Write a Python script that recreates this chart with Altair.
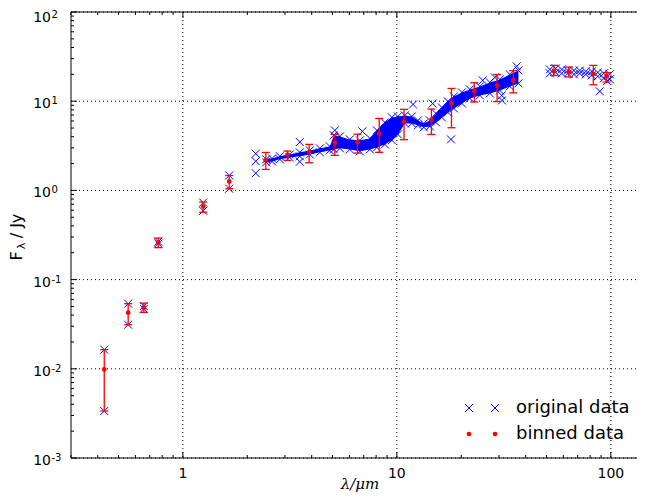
import altair as alt
import pandas as pd

W, H = 566, 446
BLUE = "#0000ff"
RED = "#ff0000"
CROSS = "M-1,-1L1,1M-1,1L1,-1"

# photometric points (original data)
phot_wl = [0.429, 0.429, 0.555, 0.555, 0.657, 0.657, 0.767, 0.767,
           1.244, 1.244, 1.646, 1.646, 2.19, 2.19, 2.19]
phot_flux = [0.0164, 0.00336, 0.0537, 0.0312, 0.0505, 0.0470, 0.266, 0.254,
             0.73, 0.59, 1.47, 1.045, 2.58, 2.12, 1.56]

# mid-IR spectrum: upper and lower envelope of the dense band
spec_wl = [2.45, 2.61, 2.84, 3.16, 3.52, 3.92, 4.37, 4.86, 5.08, 5.42, 6.03,
           6.72, 7.48, 8.07, 8.79, 9.48, 10.11, 10.90, 11.75, 12.54, 13.37,
           14.27, 15.22, 16.23, 17.31, 18.47, 20.13, 21.94, 24.43, 27.20,
           30.29, 33.73, 37.0]
spec_hi = [2.23, 2.28, 2.41, 2.53, 2.67, 2.81, 2.96, 3.11, 4.14, 4.03, 3.73,
           3.64, 3.83, 4.71, 5.79, 6.58, 6.75, 6.93, 6.75, 6.09, 5.64, 6.09,
           7.30, 8.52, 9.95, 11.32, 12.55, 13.56, 14.66, 16.25, 17.56, 19.97,
           22.14]
spec_lo = [2.06, 2.11, 2.23, 2.34, 2.41, 2.53, 2.67, 2.81, 2.88, 2.96, 2.88,
           2.74, 2.88, 3.03, 3.28, 3.64, 4.24, 5.64, 5.64, 5.36, 5.09, 5.22,
           5.79, 6.58, 7.49, 8.30, 9.45, 10.75, 11.61, 12.23, 13.22, 14.66,
           15.84]

# far-IR spectrum
fir_wl = [51.9, 55.3, 59.0, 63.0, 67.2, 71.6, 76.4, 81.5, 86.9, 92.7, 98.9]
fir_hi = [22.7, 23.3, 22.7, 22.1, 22.1, 22.1, 21.6, 21.6, 21.0, 20.5, 20.0]
fir_lo = [20.5, 21.0, 20.5, 20.5, 20.0, 20.5, 20.0, 19.5, 19.0, 18.0, 17.6]

# scattered individual points
out_wl = [3.52, 3.52, 5.13, 6.9, 11.9, 14.7, 17.9, 25.2, 28.7, 30.9, 31.0,
          36.3, 88.8, 96.0]
out_flux = [3.48, 2.10, 4.71, 4.59, 9.2, 9.4, 3.73, 17.1, 18.5, 11.6, 10.2,
            24.6, 12.9, 16.8]

# binned data
bin_wl = [0.429, 0.555, 0.657, 0.767, 1.244, 1.646, 2.44, 3.08, 3.89, 5.13,
          6.55, 8.27, 10.8, 14.5, 18.0, 23.0, 29.4, 35.0, 54.2, 63.6, 82.8, 95.5]
bin_flux = [0.00985, 0.0426, 0.0484, 0.259, 0.66, 1.26, 2.17, 2.51, 2.69, 3.39,
            3.45, 4.32, 5.83, 6.2, 9.5, 13.0, 15.0, 17.1, 21.7, 21.4, 20.3, 19.1]
bin_lo = [0.00336, 0.0312, 0.0429, 0.228, 0.57, 1.045, 1.72, 2.17, 2.04, 2.47,
          2.62, 2.67, 3.7, 4.24, 5.04, 9.8, 9.9, 12.4, 19.4, 18.7, 15.3, 16.4]
bin_hi = [0.0164, 0.0537, 0.0545, 0.292, 0.74, 1.47, 2.66, 2.76, 3.28, 4.24,
          4.27, 6.4, 8.1, 8.17, 13.9, 16.1, 19.9, 22.0, 25.2, 24.1, 25.2, 20.9]

# axis ticks and tick labels
x_major = [1, 10, 100]
x_labels = ["1", "10", "100"]
x_minor = [0.3, 0.4, 0.5, 0.6, 0.7, 0.8, 0.9, 2, 3, 4, 5, 6, 7, 8, 9,
           20, 30, 40, 50, 60, 70, 80, 90]
y_major = [0.001, 0.01, 0.1, 1, 10, 100]
y_base = ["10", "10", "10", "10", "10", "10"]
y_exp = ["-3", "-2", "-1", "0", "1", "2"]
y_minor = [0.002, 0.003, 0.004, 0.005, 0.006, 0.007, 0.008, 0.009,
           0.02, 0.03, 0.04, 0.05, 0.06, 0.07, 0.08, 0.09,
           0.2, 0.3, 0.4, 0.5, 0.6, 0.7, 0.8, 0.9,
           2, 3, 4, 5, 6, 7, 8, 9, 20, 30, 40, 50, 60, 70, 80, 90]

xs = alt.Scale(type="log", domain=[0.3, 132.5])
ys = alt.Scale(type="log", domain=[0.001, 100])


def X(field):
    return alt.X(field, type="quantitative", scale=xs, axis=None)


def Y(field):
    return alt.Y(field, type="quantitative", scale=ys, axis=None)


spec = pd.DataFrame({"wl": spec_wl, "hi": spec_hi, "lo": spec_lo})
orig = pd.DataFrame({
    "wl": phot_wl + spec_wl + spec_wl + fir_wl + fir_wl + out_wl,
    "flux": phot_flux + spec_hi + spec_lo + fir_hi + fir_lo + out_flux,
})
binned = pd.DataFrame({"wl": bin_wl, "flux": bin_flux, "lo": bin_lo, "hi": bin_hi})
xmaj = pd.DataFrame({"v": x_major, "lab": x_labels})
ymaj = pd.DataFrame({"v": y_major, "base": y_base, "exp": y_exp})
one = pd.DataFrame({"k": [0]})

# grid
xgrid = alt.Chart(xmaj).mark_rule(color="black", strokeWidth=1, strokeDash=[1, 3]).encode(
    x=X("v"), y=alt.value(0), y2=alt.value(H))
ygrid = alt.Chart(ymaj).mark_rule(color="black", strokeWidth=1, strokeDash=[1, 3]).encode(
    y=Y("v"), x=alt.value(0), x2=alt.value(W))

# data
band = alt.Chart(spec).mark_area(color=BLUE, opacity=1).encode(
    x=X("wl"), y=Y("lo"), y2="hi:Q")
crosses = alt.Chart(orig).mark_point(shape=CROSS, filled=False, size=64,
                                      strokeWidth=1, color=BLUE, opacity=1).encode(
    x=X("wl"), y=Y("flux"))
ebar = alt.Chart(binned).mark_rule(color=RED, strokeWidth=1.3).encode(
    x=X("wl"), y=Y("lo"), y2="hi:Q")
cap_lo = alt.Chart(binned).mark_tick(color=RED, orient="horizontal", size=8,
                                     thickness=1.3, opacity=1).encode(x=X("wl"), y=Y("lo"))
cap_hi = alt.Chart(binned).mark_tick(color=RED, orient="horizontal", size=8,
                                     thickness=1.3, opacity=1).encode(x=X("wl"), y=Y("hi"))
dots = alt.Chart(binned).mark_circle(color=RED, size=22, opacity=1).encode(
    x=X("wl"), y=Y("flux"))


def xticks(vals, y0, y1):
    return alt.Chart(pd.DataFrame({"v": vals})).mark_rule(color="black", strokeWidth=1).encode(
        x=X("v"), y=alt.value(y0), y2=alt.value(y1))


def yticks(vals, length):
    return alt.Chart(pd.DataFrame({"v": vals})).mark_rule(color="black", strokeWidth=1).encode(
        y=Y("v"), x=alt.value(0), x2=alt.value(length))


tick_layers = [
    xticks(x_major, H, H - 6), xticks(x_minor, H, H - 3),
    xticks(x_major, 0, 6), xticks(x_minor, 0, 3),
    yticks(y_major, 6), yticks(y_minor, 3),
]
frame_top = alt.Chart(one).mark_rule(color="black", strokeWidth=1).encode(
    x=alt.value(0), x2=alt.value(W), y=alt.value(0))
frame_bottom = alt.Chart(one).mark_rule(color="black", strokeWidth=1).encode(
    x=alt.value(0), x2=alt.value(W), y=alt.value(H))
frame_left = alt.Chart(one).mark_rule(color="black", strokeWidth=1).encode(
    x=alt.value(0), y=alt.value(0), y2=alt.value(H))

# tick labels
xlab = alt.Chart(xmaj).mark_text(font="DejaVu Sans", fontSize=14, color="black",
                                 align="center", baseline="alphabetic").encode(
    x=X("v"), y=alt.value(H + 20), text="lab:N")


def ylabels(test, dy_base, dy_exp):
    base = alt.Chart(ymaj).transform_filter(test).mark_text(
        font="DejaVu Sans", fontSize=14, color="black", align="right",
        baseline="alphabetic", dy=dy_base).encode(
        y=Y("v"), x=alt.value(-20), text="base:N")
    exp = alt.Chart(ymaj).transform_filter(test).mark_text(
        font="DejaVu Sans", fontSize=10, color="black", align="left",
        baseline="alphabetic", dy=dy_exp).encode(
        y=Y("v"), x=alt.value(-19.5), text="exp:N")
    return [base, exp]


ylab_layers = ylabels("datum.v < 50", 7, 3) + ylabels("datum.v > 50", 10, 6)

# axis titles
xtitle = alt.Chart(one).mark_text(text="λ/μm", font="DejaVu Serif", fontStyle="italic",
                                  fontSize=15, color="black", align="center",
                                  baseline="alphabetic").encode(
    x=alt.value(289), y=alt.value(477))
tF = alt.Chart(one).mark_text(text="F", angle=270, font="DejaVu Sans", fontSize=16,
                              color="black", align="center", baseline="middle").encode(
    x=alt.value(-54), y=alt.value(244))
tL = alt.Chart(one).mark_text(text="λ", angle=270, font="DejaVu Sans", fontSize=11,
                              color="black", align="center", baseline="middle").encode(
    x=alt.value(-49), y=alt.value(234))
tJ = alt.Chart(one).mark_text(text="/ Jy", angle=270, font="DejaVu Sans", fontSize=16,
                              color="black", align="center", baseline="middle").encode(
    x=alt.value(-54), y=alt.value(214))

# legend
leg_x1 = alt.Chart(one).mark_point(shape=CROSS, filled=False, size=64, strokeWidth=1,
                                   color=BLUE, opacity=1).encode(x=alt.value(398), y=alt.value(396))
leg_x2 = alt.Chart(one).mark_point(shape=CROSS, filled=False, size=64, strokeWidth=1,
                                   color=BLUE, opacity=1).encode(x=alt.value(424), y=alt.value(396))
leg_d1 = alt.Chart(one).mark_circle(color=RED, size=22, opacity=1).encode(
    x=alt.value(398), y=alt.value(422))
leg_d2 = alt.Chart(one).mark_circle(color=RED, size=22, opacity=1).encode(
    x=alt.value(424), y=alt.value(422))
leg_t1 = alt.Chart(one).mark_text(text="original data", font="DejaVu Sans", fontSize=18,
                                  color="black", align="left", baseline="middle").encode(
    x=alt.value(445), y=alt.value(396))
leg_t2 = alt.Chart(one).mark_text(text="binned data", font="DejaVu Sans", fontSize=18,
                                  color="black", align="left", baseline="middle").encode(
    x=alt.value(445), y=alt.value(422))

chart = alt.layer(
    xgrid, ygrid, band, crosses, ebar, cap_lo, cap_hi, dots, *tick_layers,
    frame_top, frame_bottom, frame_left, xlab, *ylab_layers, xtitle,
    tF, tL, tJ, leg_x1, leg_x2, leg_d1, leg_d2, leg_t1, leg_t2,
).properties(
    width=W, height=H,
    autosize=alt.AutoSizeParams(type="none"),
    padding={"left": 63, "top": 4, "right": 0, "bottom": 34},
    background="white",
).configure_view(stroke=None)

chart.save("out.html", embed_options={"renderer": "svg", "actions": False})
